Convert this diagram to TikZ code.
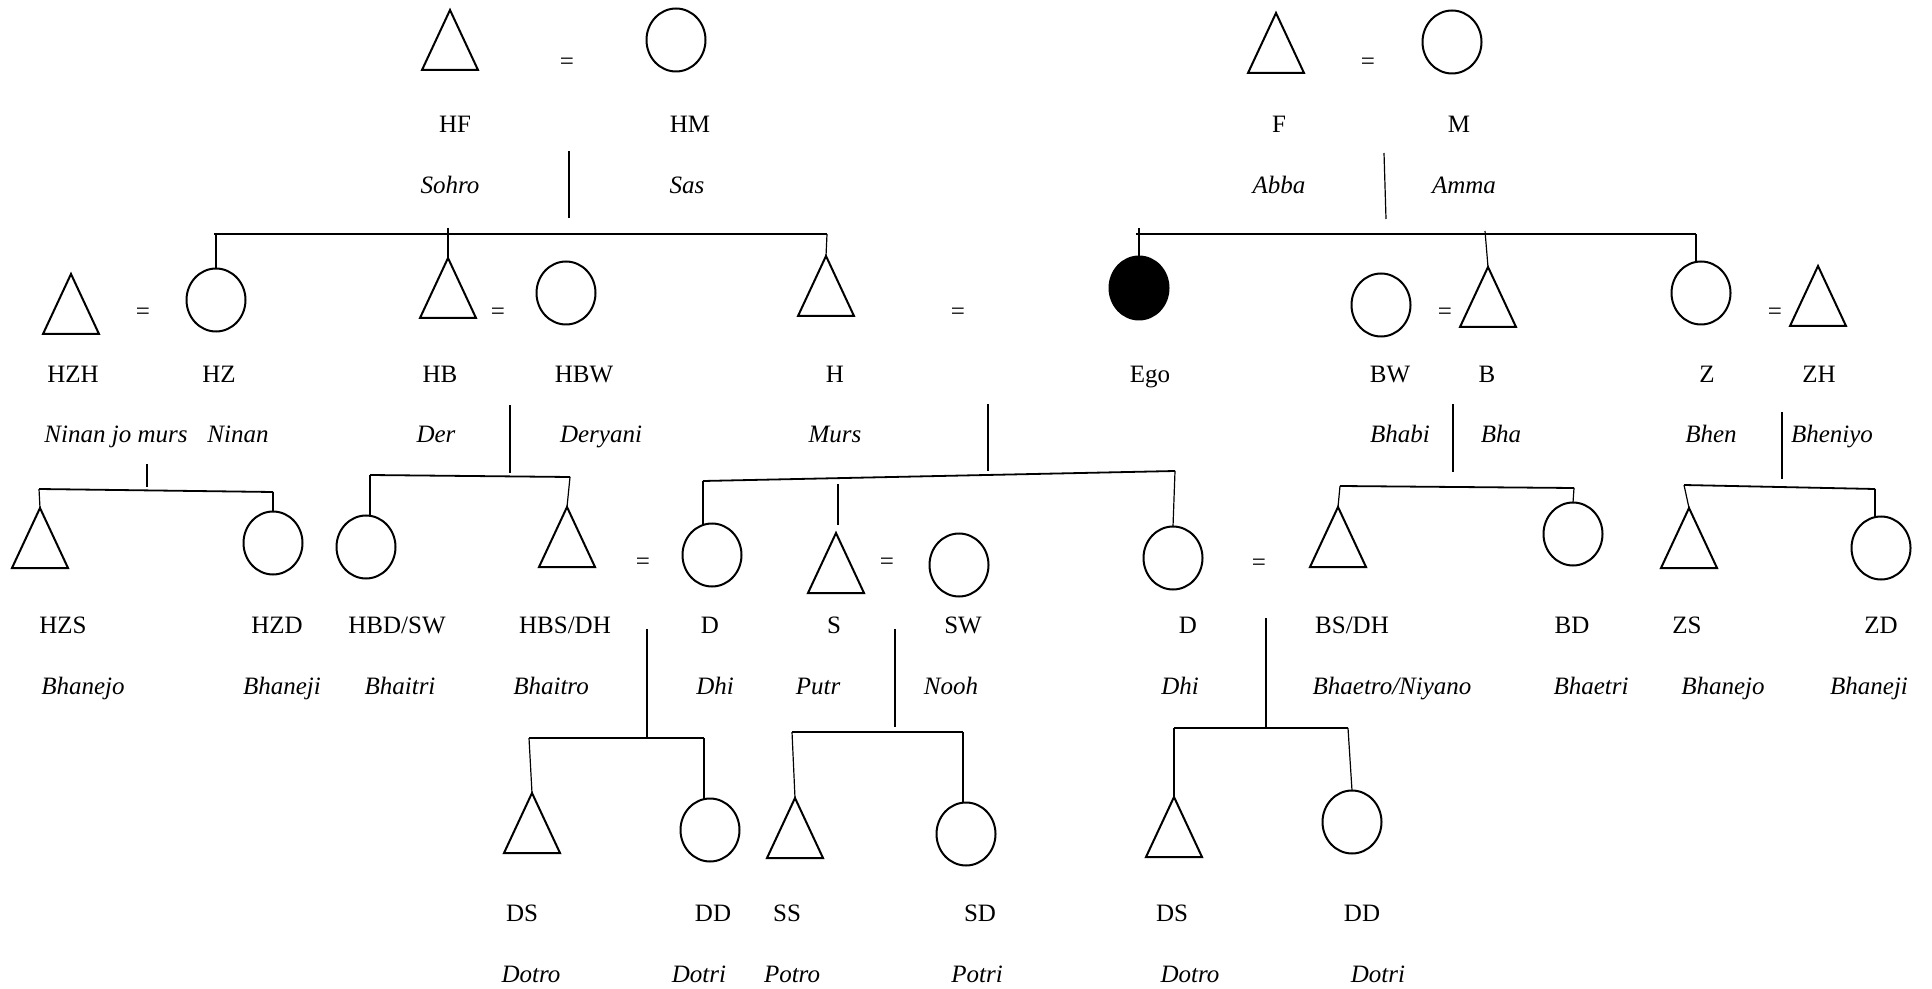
\documentclass[tikz,border=0pt]{standalone}
\usepackage{fontspec}
\setmainfont{Liberation Serif}
\usetikzlibrary{shapes.geometric}
\begin{document}
\begin{tikzpicture}[x=0.5pt,y=-0.5pt,
  male/.style={draw, line width=1pt, isosceles triangle, shape border rotate=90,
    isosceles triangle stretches, minimum width=28pt, minimum height=30pt,
    inner sep=0pt, outer sep=0pt, anchor=apex},
  female/.style={draw, line width=1pt, ellipse, minimum width=29.5pt,
    minimum height=31.5pt, inner sep=0pt, outer sep=0pt},
  egostyle/.style={female, fill=black},
  eq/.style={font=\fontsize{12.5}{15}\selectfont, inner sep=0pt},
  lab/.style={font=\fontsize{12.5}{15}\selectfont, anchor=base, inner sep=0pt},
  term/.style={anchor=base, inner sep=0pt, font=\fontsize{12.5}{15}\selectfont\itshape},
  link/.style={line width=0.6pt},
  bar/.style={line width=0.9pt},
]
\useasboundingbox (0,0) rectangle (1932,989);
\fill[white] (0,0) rectangle (1932,989);

% ---------- generation 1 ----------
\node[male] (HF) at (450,10) {};
\node[eq] (eqHF) at (567,64) {=};
\node[female] (HM) at (676,40) {};
\node[male] (F) at (1276,13) {};
\node[eq] (eqF) at (1368,64) {=};
\node[female] (M) at (1452,42) {};

\node[lab] (lHF) at (455,133) {HF};
\node[lab] (lHM) at (690,133) {HM};
\node[lab] (lF) at (1279,133) {F};
\node[lab] (lM) at (1459,133) {M};
\node[term] (tHF) at (450,194) {Sohro};
\node[term] (tHM) at (687,194) {Sas};
\node[term] (tF) at (1279,194) {Abba};
\node[term] (tM) at (1464,194) {Amma};

% ---------- generation 2 ----------
\node[male] (HZH) at (71,274) {};
\node[eq] (eqHZ) at (143,314) {=};
\node[female] (HZ) at (216,300) {};
\node[male] (HB) at (448,258) {};
\node[eq] (eqHB) at (498,314) {=};
\node[female] (HBW) at (566,293) {};
\node[male] (H) at (826,256) {};
\node[eq] (eqH) at (958,314) {=};
\node[egostyle] (Ego) at (1139,288) {};
\node[female] (BW) at (1381,305) {};
\node[eq] (eqB) at (1445,314) {=};
\node[male] (B) at (1488,267) {};
\node[female] (Z) at (1701,293) {};
\node[eq] (eqZ) at (1775,314) {=};
\node[male] (ZH) at (1818,266) {};

\node[lab] (lHZH) at (73,383) {HZH};
\node[lab] (lHZ) at (219,383) {HZ};
\node[lab] (lHB) at (440,383) {HB};
\node[lab] (lHBW) at (584,383) {HBW};
\node[lab] (lH) at (835,383) {H};
\node[lab] (lEgo) at (1150,383) {Ego};
\node[lab] (lBW) at (1390,383) {BW};
\node[lab] (lB) at (1487,383) {B};
\node[lab] (lZ) at (1707,383) {Z};
\node[lab] (lZH) at (1819,383) {ZH};

\node[term] (tHZH) at (116,443) {Ninan jo murs};
\node[term] (tHZ) at (238,443) {Ninan};
\node[term] (tHB) at (436,443) {Der};
\node[term] (tHBW) at (601,443) {Deryani};
\node[term] (tH) at (835,443) {Murs};
\node[term] (tBW) at (1400,443) {Bhabi};
\node[term] (tB) at (1501,443) {Bha};
\node[term] (tZ) at (1711,443) {Bhen};
\node[term] (tZH) at (1832,443) {Bheniyo};

% ---------- generation 3 ----------
\node[male] (HZS) at (40,508) {};
\node[female] (HZD) at (273,543) {};
\node[female] (HBD) at (366,547) {};
\node[male] (HBS) at (567,507) {};
\node[eq] (eqHBS) at (643,564) {=};
\node[female] (Da) at (712,555) {};
\node[male] (S) at (836,533) {};
\node[eq] (eqS) at (887,564) {=};
\node[female] (SW) at (959,565) {};
\node[female] (Db) at (1173,558) {};
\node[eq] (eqD) at (1259,565) {=};
\node[male] (BS) at (1338,507) {};
\node[female] (BD) at (1573,534) {};
\node[male] (ZS) at (1689,508) {};
\node[female] (ZD) at (1881,548) {};

\node[lab] (lHZS) at (63,633) {HZS};
\node[lab] (lHZD) at (277,633) {HZD};
\node[lab] (lHBD) at (397,633) {HBD/SW};
\node[lab] (lHBS) at (565,633) {HBS/DH};
\node[lab] (lDa) at (710,633) {D};
\node[lab] (lS) at (834,633) {S};
\node[lab] (lSW) at (963,633) {SW};
\node[lab] (lDb) at (1188,633) {D};
\node[lab] (lBS) at (1352,633) {BS/DH};
\node[lab] (lBD) at (1572,633) {BD};
\node[lab] (lZS) at (1687,633) {ZS};
\node[lab] (lZD) at (1881,633) {ZD};

\node[term] (tHZS) at (83,694) {Bhanejo};
\node[term] (tHZD) at (282,694) {Bhaneji};
\node[term] (tHBD) at (400,694) {Bhaitri};
\node[term] (tHBS) at (551,694) {Bhaitro};
\node[term] (tDa) at (715,694) {Dhi};
\node[term] (tS) at (818,694) {Putr};
\node[term] (tSW) at (951,694) {Nooh};
\node[term] (tDb) at (1180,694) {Dhi};
\node[term] (tBS) at (1392,694) {Bhaetro/Niyano};
\node[term] (tBD) at (1591,694) {Bhaetri};
\node[term] (tZS) at (1723,694) {Bhanejo};
\node[term] (tZD) at (1869,694) {Bhaneji};

% ---------- generation 4 ----------
\node[male] (DSa) at (532,793) {};
\node[female] (DDa) at (710,830) {};
\node[male] (SS) at (795,798) {};
\node[female] (SD) at (966,834) {};
\node[male] (DSb) at (1174,797) {};
\node[female] (DDb) at (1352,822) {};

\node[lab] (lDSa) at (522,921) {DS};
\node[lab] (lDDa) at (713,921) {DD};
\node[lab] (lSS) at (787,921) {SS};
\node[lab] (lSD) at (980,921) {SD};
\node[lab] (lDSb) at (1172,921) {DS};
\node[lab] (lDDb) at (1362,921) {DD};

\node[term] (tDSa) at (531,982) {Dotro};
\node[term] (tDDa) at (699,982) {Dotri};
\node[term] (tSS) at (792,982) {Potro};
\node[term] (tSD) at (977,982) {Potri};
\node[term] (tDSb) at (1190,982) {Dotro};
\node[term] (tDDb) at (1378,982) {Dotri};

% ---------- connectors ----------
% HF = HM
\coordinate (hfT) at (569,151); \coordinate (hfB) at (569,218);
\coordinate (hfL) at (214,234); \coordinate (hfR) at (827,234);
\coordinate (hzD) at (216,234); \coordinate (hbD) at (448,228);
\draw[link] (hfT) -- (hfB);
\draw[bar] (hfL) -- (hfR);
\draw[link] (hzD) -- (HZ.north);
\draw[link] (hbD) -- (HB.apex);
\draw[link] (hfR) -- (H.apex);

% F = M
\coordinate (fT) at (1384,153); \coordinate (fB) at (1386,219);
\coordinate (fL) at (1136,234); \coordinate (fR) at (1696,234);
\coordinate (egoD) at (1139,228); \coordinate (bD) at (1485,231);
\draw[link] (fT) -- (fB);
\draw[bar] (fL) -- (fR);
\draw[link] (egoD) -- (Ego.north);
\draw[link] (bD) -- (B.apex);
\draw[link] (fR) -- (fR |- Z.north);

% HZH = HZ
\coordinate (hzT) at (147,464); \coordinate (hzB) at (147,487);
\coordinate (hzL) at (39,489); \coordinate (hzR) at (273,492);
\draw[link] (hzT) -- (hzB);
\draw[bar] (hzL) -- (hzR);
\draw[link] (hzL) -- (HZS.apex);
\draw[link] (hzR) -- (HZD.north);

% HB = HBW
\coordinate (hbT) at (510,405); \coordinate (hbB) at (510,473);
\coordinate (hbL) at (370,475); \coordinate (hbR) at (570,477);
\draw[link] (hbT) -- (hbB);
\draw[bar] (hbL) -- (hbR);
\draw[link] (hbL) -- (hbL |- HBD.north);
\draw[link] (hbR) -- (HBS.apex);

% H = D
\coordinate (hT) at (988,404); \coordinate (hB) at (988,471);
\coordinate (hL) at (703,481); \coordinate (hR) at (1175,471);
\coordinate (sT) at (838,484); \coordinate (sB) at (838,525);
\draw[link] (hT) -- (hB);
\draw[bar] (hL) -- (hR);
\draw[link] (hL) -- (hL |- Da.north);
\draw[link] (sT) -- (sB);
\draw[link] (hR) -- (Db.north);

% B = BW
\coordinate (bT) at (1453,404); \coordinate (bB) at (1453,472);
\coordinate (bL) at (1340,486); \coordinate (bR) at (1574,488);
\draw[link] (bT) -- (bB);
\draw[bar] (bL) -- (bR);
\draw[link] (bL) -- (BS.apex);
\draw[link] (bR) -- (BD.north);

% Z = ZH
\coordinate (zT) at (1782,412); \coordinate (zB) at (1782,479);
\coordinate (zL) at (1684,485); \coordinate (zR) at (1875,489);
\draw[link] (zT) -- (zB);
\draw[bar] (zL) -- (zR);
\draw[link] (zL) -- (ZS.apex);
\draw[link] (zR) -- (zR |- ZD.north);

% HBS = D
\coordinate (dT) at (647,629); \coordinate (dB) at (647,738);
\coordinate (dL) at (529,738); \coordinate (dR) at (704,738);
\draw[link] (dT) -- (dB);
\draw[bar] (dL) -- (dR);
\draw[link] (dL) -- (DSa.apex);
\draw[link] (dR) -- (dR |- DDa.north);

% S = SW
\coordinate (swT) at (895,629); \coordinate (swB) at (895,727);
\coordinate (swL) at (792,732); \coordinate (swR) at (963,732);
\draw[link] (swT) -- (swB);
\draw[bar] (swL) -- (swR);
\draw[link] (swL) -- (SS.apex);
\draw[link] (swR) -- (swR |- SD.north);

% D = BS/DH
\coordinate (d2T) at (1266,618); \coordinate (d2B) at (1266,728);
\coordinate (d2L) at (1174,728); \coordinate (d2R) at (1348,728);
\draw[link] (d2T) -- (d2B);
\draw[bar] (d2L) -- (d2R);
\draw[link] (d2L) -- (DSb.apex);
\draw[link] (d2R) -- (DDb.north);
\end{tikzpicture}
\end{document}
